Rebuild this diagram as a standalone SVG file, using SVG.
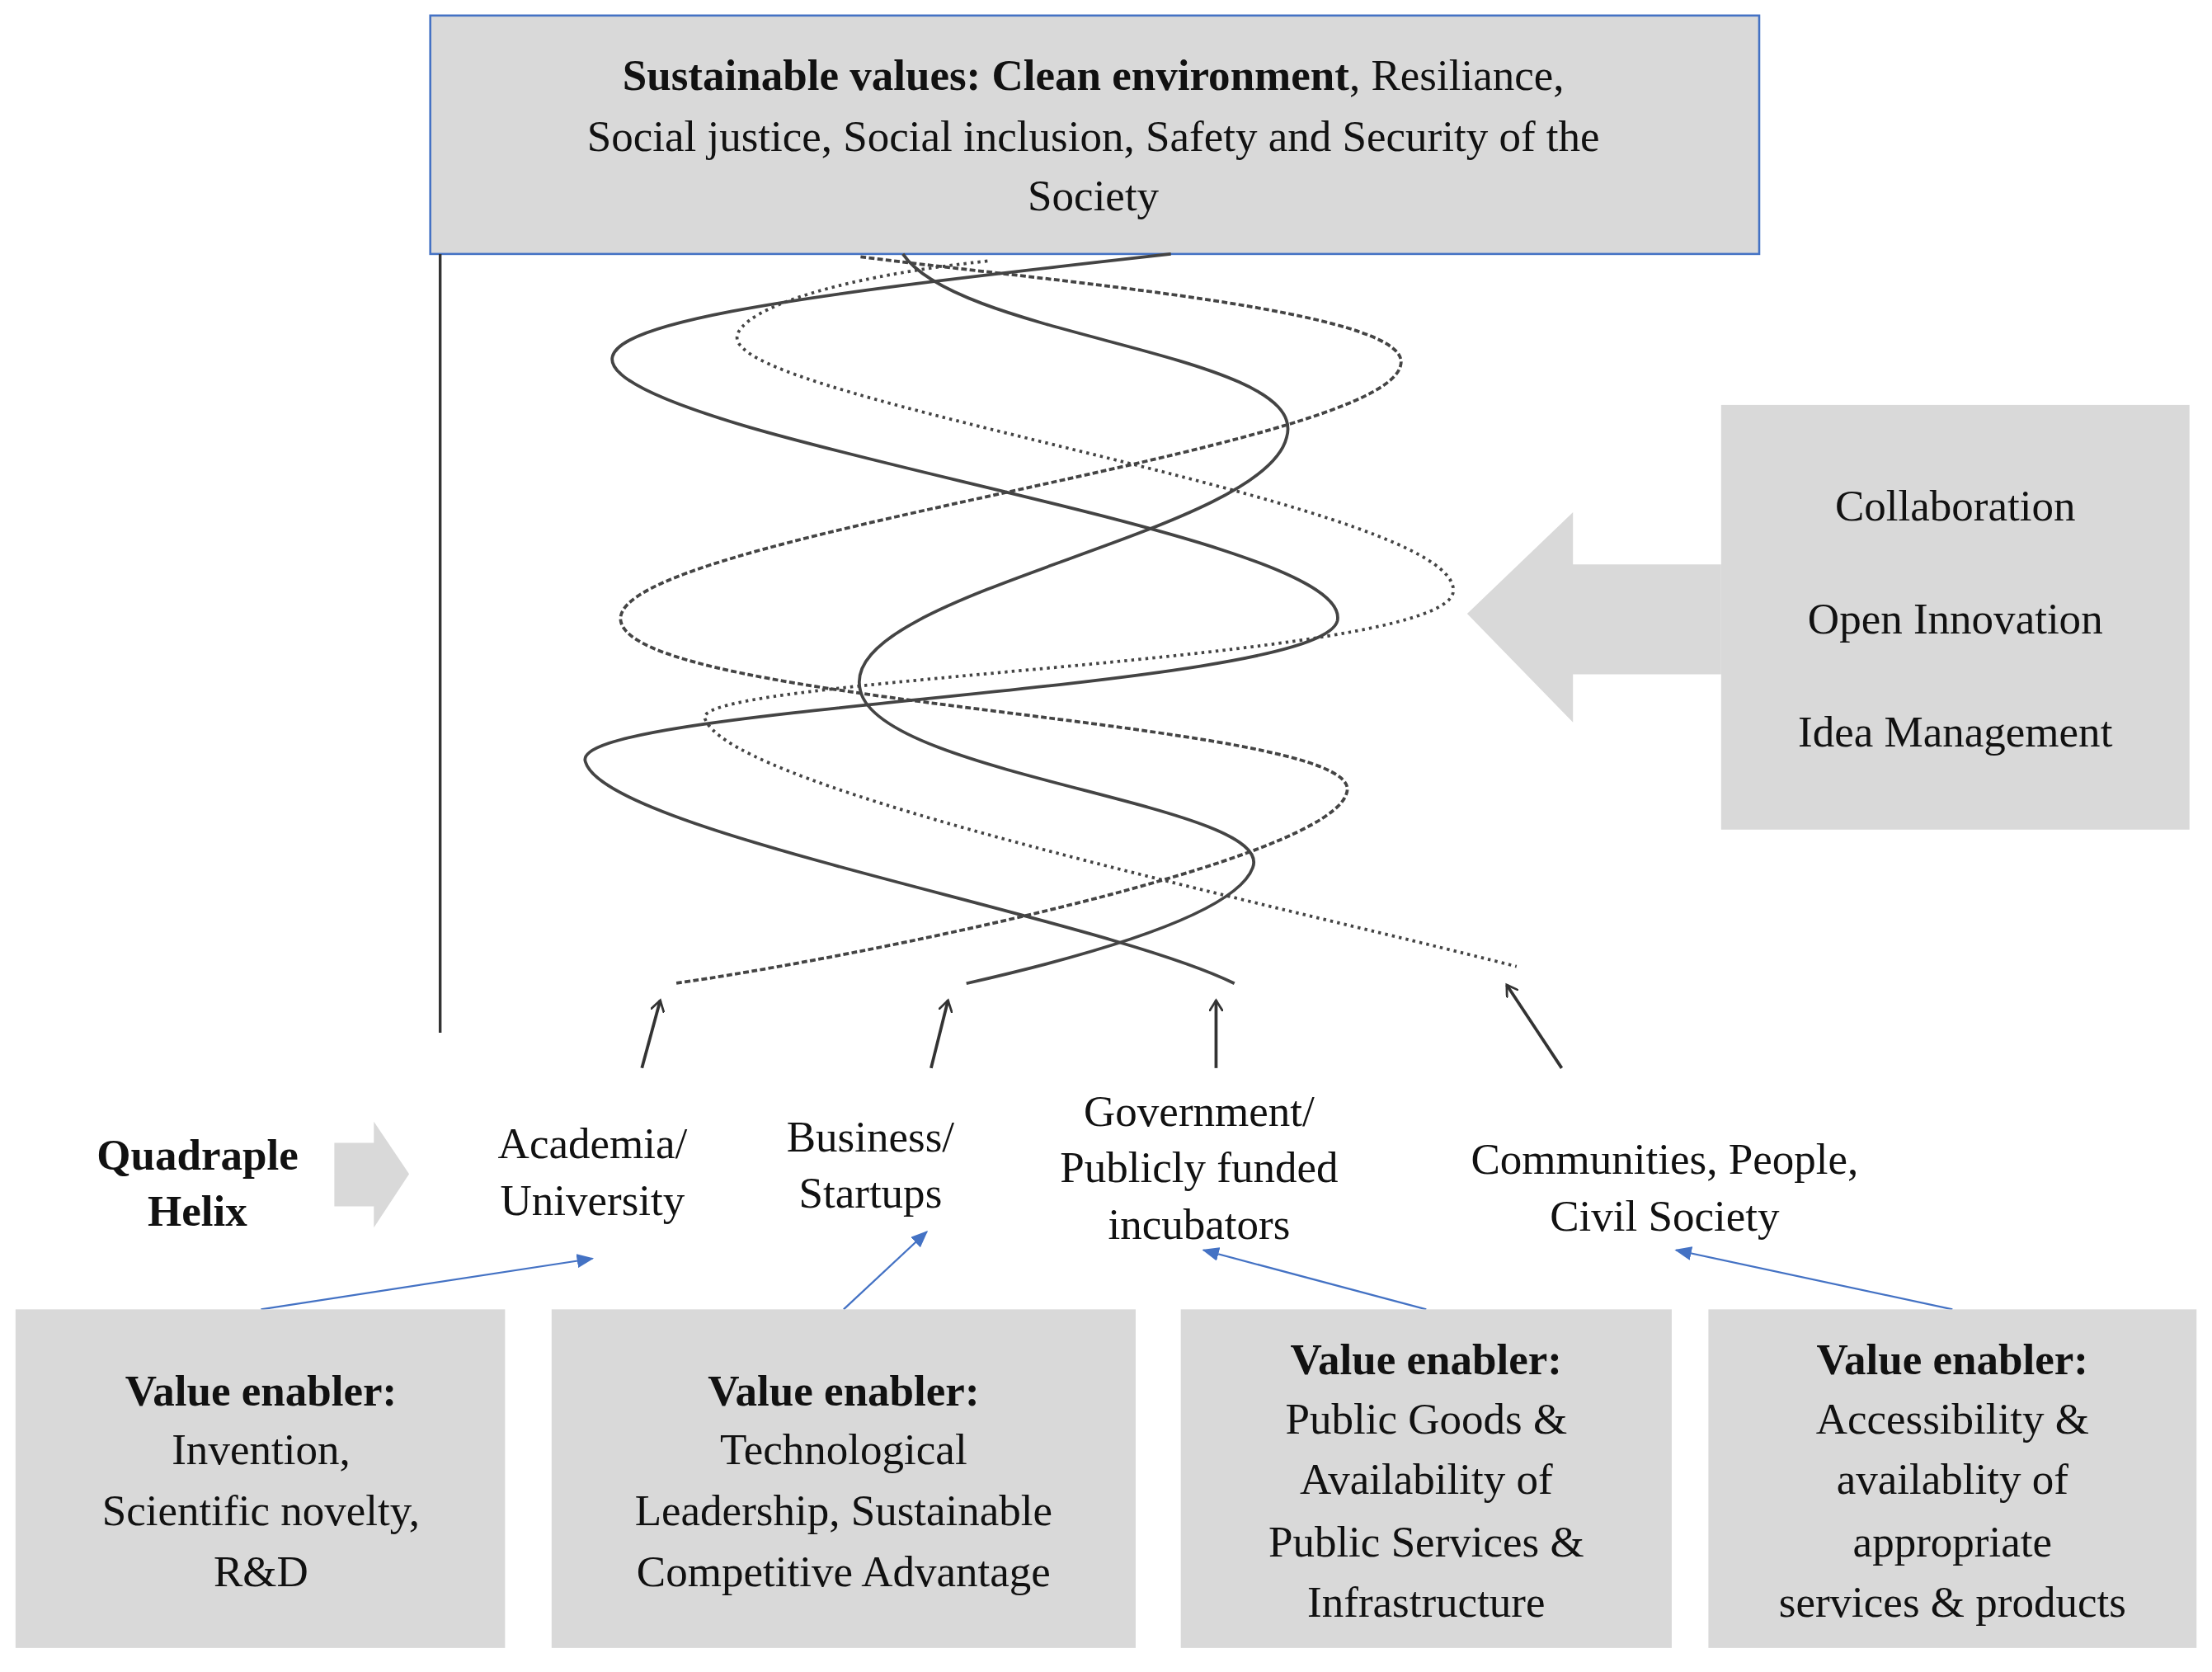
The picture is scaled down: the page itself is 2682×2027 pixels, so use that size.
<svg xmlns="http://www.w3.org/2000/svg" width="2682" height="2027" viewBox="0 0 2682 2027">
<style>
text{font-family:"Liberation Serif",serif;font-size:31px;fill:#111;text-anchor:middle}
.b{font-weight:bold}
.box{fill:#d9d9d9}
.h{fill:none;stroke:#444;stroke-width:2.2}
.arr{stroke:#333;stroke-width:2.2;fill:none}
.blue{stroke:#4472c4;stroke-width:1.3;fill:none}
</style>
<defs>
<marker id="oa" markerWidth="10" markerHeight="10" refX="8" refY="5" orient="auto" markerUnits="userSpaceOnUse" viewBox="0 0 10 10"><path d="M0,0 L8,5 L0,10" fill="none" stroke="#333" stroke-width="1.6"/></marker>
<marker id="ba" markerWidth="12" markerHeight="10" refX="11" refY="5" orient="auto" markerUnits="userSpaceOnUse" viewBox="0 0 12 10"><path d="M0,0 L12,5 L0,10 Z" fill="#4472c4"/></marker>
</defs>
<rect width="2682" height="2027" fill="#fff"/>
<g transform="scale(1.7105)">
<g id="top"><rect x="305" y="11" width="942" height="169" class="box" stroke="#4472c4" stroke-width="1.5"/>
<text x="775" y="64"><tspan class="b">Sustainable values: Clean environment</tspan>, Resiliance,</text>
<text x="775" y="107">Social justice, Social inclusion, Safety and Security of the</text>
<text x="775" y="149">Society</text></g>
<g id="connectors">
<line x1="312" y1="180" x2="312" y2="732" stroke="#333" stroke-width="2"/>
<path class="h" d="M830,180 C560,210 400,230 440,265 C500,320 960,380 948,440 C935,490 400,500 415,540 C430,590 780,650 875,697"/>
<path class="h" d="M640,180 C680,240 930,250 912,310 C895,380 590,420 610,490 C625,550 905,570 888,615 C875,650 760,680 685,697"/>
<path class="h" stroke-dasharray="4,2" stroke="#555" d="M610,182 C750,200 1000,220 993,258 C985,320 430,380 440,440 C450,500 960,510 955,560 C950,610 600,680 478,697"/>
<path class="h" stroke-dasharray="2,3" stroke="#999" d="M700,185 C560,200 510,230 525,245 C560,290 1040,360 1030,420 C1020,470 480,480 500,510 C520,560 900,640 1075,685"/>
<line class="arr" x1="455" y1="757" x2="468" y2="709" marker-end="url(#oa)"/>
<line class="arr" x1="660" y1="757" x2="672" y2="709" marker-end="url(#oa)"/>
<line class="arr" x1="862" y1="757" x2="862" y2="709" marker-end="url(#oa)"/>
<line class="arr" x1="1107" y1="757" x2="1068" y2="698" marker-end="url(#oa)"/>
<line class="blue" x1="185" y1="928" x2="420" y2="892" marker-end="url(#ba)"/>
<line class="blue" x1="598" y1="928" x2="657" y2="873" marker-end="url(#ba)"/>
<line class="blue" x1="1011" y1="928" x2="853" y2="886" marker-end="url(#ba)"/>
<line class="blue" x1="1384" y1="928" x2="1188" y2="886" marker-end="url(#ba)"/>
</g>
<g id="right"><rect x="1220" y="287" width="332" height="301" class="box"/>
<polygon class="box" points="1040,435 1115,363 1115,400 1220,400 1220,478 1115,478 1115,512"/>
<text x="1386" y="369">Collaboration</text><text x="1386" y="449">Open Innovation</text><text x="1386" y="529">Idea Management</text></g>
<g id="qh"><text x="140" y="829" class="b">Quadraple</text><text x="140" y="869" class="b">Helix</text>
<polygon class="box" points="237,810 265,810 265,795 290,832 265,870 265,855 237,855"/></g>
<g id="academia"><text x="420" y="821">Academia/</text><text x="420" y="861">University</text></g>
<g id="business"><text x="617" y="816">Business/</text><text x="617" y="856">Startups</text></g>
<g id="gov"><text x="850" y="798">Government/</text><text x="850" y="838">Publicly funded</text><text x="850" y="878">incubators</text></g>
<g id="comm"><text x="1180" y="832">Communities, People,</text><text x="1180" y="872">Civil Society</text></g>
<g id="ve1"><rect x="11" y="928" width="347" height="240" class="box"/>
<text x="185" y="996" class="b">Value enabler:</text><text x="185" y="1038">Invention,</text><text x="185" y="1081">Scientific novelty,</text><text x="185" y="1124">R&amp;D</text></g>
<g id="ve2"><rect x="391" y="928" width="414" height="240" class="box"/>
<text x="598" y="996" class="b">Value enabler:</text><text x="598" y="1038">Technological</text><text x="598" y="1081">Leadership, Sustainable</text><text x="598" y="1124">Competitive Advantage</text></g>
<g id="ve3"><rect x="837" y="928" width="348" height="240" class="box"/>
<text x="1011" y="974" class="b">Value enabler:</text><text x="1011" y="1016">Public Goods &amp;</text><text x="1011" y="1059">Availability of</text><text x="1011" y="1103">Public Services &amp;</text><text x="1011" y="1146">Infrastructure</text></g>
<g id="ve4"><rect x="1211" y="928" width="346" height="240" class="box"/>
<text x="1384" y="974" class="b">Value enabler:</text><text x="1384" y="1016">Accessibility &amp;</text><text x="1384" y="1059">availablity of</text><text x="1384" y="1103">appropriate</text><text x="1384" y="1146">services &amp; products</text></g>
</g>
</svg>
